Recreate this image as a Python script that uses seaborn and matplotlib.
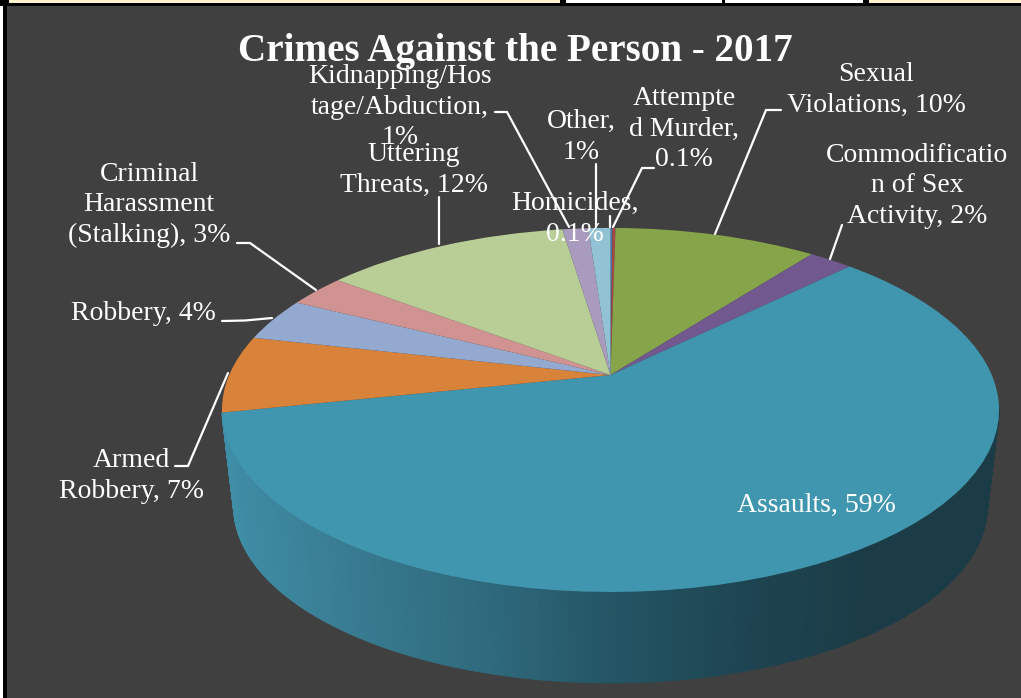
"""
Crimes Against the Person - 2017, 3D looking pie (Excel style) on dark background.
"""
import numpy as np
import matplotlib
matplotlib.use("Agg")
import matplotlib.pyplot as plt
from matplotlib.patches import Rectangle
from matplotlib.transforms import Transform
import seaborn as sns

# ── Data ───────────────────────────────────────────────────────────────────────
categories = ["Homicides", "Attempted Murder", "Sexual Violations", "Commodification of Sex Activity",
              "Assaults", "Armed Robbery", "Robbery", "Criminal Harassment (Stalking)",
              "Uttering Threats", "Kidnapping/Hostage/Abduction", "Other"]
values = [0.1, 0.15, 10.15, 2.2, 59.1, 6.85, 3.85, 2.9, 12.3, 1.3, 1.1]
colors = ["#4572a7", "#aa4643", "#86a44a", "#71588f", "#4096af", "#d98239",
          "#93a9cf", "#d19392", "#b9cd96", "#a99bbd", "#91c3d5"]
wall_colors = ["#3f8ea7", "#387b90", "#2f6a7e", "#245564", "#1e4552", "#1b3c47", "#1b3c47"]

title = "Crimes Against the Person - 2017"
labels = ["Homicides,\n0.1%", "Attempte\nd Murder,\n0.1%", "Sexual\nViolations, 10%",
          "Commodificatio\nn of Sex\nActivity, 2%", "Assaults, 59%", "Armed\nRobbery, 7%",
          "Robbery, 4%", "Criminal\nHarassment\n(Stalking), 3%", "Uttering\nThreats, 12%",
          "Kidnapping/Hos\ntage/Abduction,\n1%", "Other,\n1%"]
label_xy = [(575, 219), (684, 129), (876, 90), (917, 186), (816, 505), (131, 476),
            (143, 314), (149, 205), (414, 170), (400, 107), (581, 137)]
leaders = [[(610, 216), (610, 227)],
           [(654, 168), (642, 168), (613, 227)],
           [(781, 110), (766, 110), (715, 234)],
           [(842, 225), (830, 259)],
           [(175, 466), (188, 466), (228, 373)],
           [(222, 321), (245, 320.5), (272, 318)],
           [(237, 243), (250, 243), (316, 290)],
           [(439, 197), (439, 244)],
           [(495, 112), (507, 112), (569, 227)],
           [(596, 164), (596, 227)]]

# ── Pie geometry in image pixels ───────────────────────────────────────────────
CX, CY = 610.5, 375
R, H, K = 381.3, 175.3, 0.192
WALL_SCALE, WALL_DROP = 0.97, 97.5


class Tilt(Transform):
    """Perspective of the unit circle onto the image plane."""
    input_dims = output_dims = 2
    is_separable = False
    has_inverse = False

    def transform_non_affine(self, xy):
        xy = np.asarray(xy, dtype=float)
        w = 1 + K * xy[:, 1]
        return np.column_stack([CX + R * xy[:, 0] / w, CY - H * xy[:, 1] / w])


sns.set_theme(style="white")
plt.rcParams["font.family"] = ["Liberation Serif", "DejaVu Serif"]
fig = plt.figure(figsize=(10.21, 6.98), dpi=100, facecolor="#404040")
ax = fig.add_axes([0, 0, 1, 1])
wedges, _ = ax.pie(values, colors=colors, startangle=90, counterclock=False, radius=1)
ax.set_aspect("auto")
ax.set_xlim(0, 1021)
ax.set_ylim(698, 0)
ax.set_facecolor("#404040")
ax.axis("on")
sns.despine(ax=ax, left=True, bottom=True)
ax.set_xticks([])
ax.set_yticks([])

tilt = Tilt()
for w in wedges:
    w.set_transform(tilt + ax.transData)
    w.set_linewidth(0)
    w.set_zorder(3)

# ── Side wall (only the Assaults slice shows it) ───────────────────────────────
cum = np.cumsum(values) / np.sum(values) * 360
a = np.radians(np.linspace(100, cum[4], 220))
top = tilt.transform_non_affine(np.column_stack([np.sin(a), np.cos(a)]))
bot = np.column_stack([CX + (top[:, 0] - CX) * WALL_SCALE,
                       CY + (top[:, 1] - CY) * WALL_SCALE + WALL_DROP])
pal = sns.blend_palette(wall_colors, 256)
for i in range(len(a) - 1):
    mid = (top[i, 0] + top[i + 1, 0]) / 2
    c = pal[int(np.clip((mid - 222) / 777, 0, 1) * 255)]
    ax.fill([top[i, 0], top[i + 1, 0], bot[i + 1, 0], bot[i, 0]],
            [top[i, 1], top[i + 1, 1], bot[i + 1, 1], bot[i, 1]],
            color=c, lw=0.6, zorder=2)

# ── Leader lines and labels ────────────────────────────────────────────────────
for pts in leaders:
    ax.plot(*zip(*pts), color="white", lw=1.6, zorder=4, solid_joinstyle="miter")
for text, (x, y) in zip(labels, label_xy):
    ax.text(x, y, text, color="white", fontsize=20, ha="center", va="center",
            linespacing=1.31, zorder=5, multialignment="center")
ax.text(515, 52, title, color="white", fontsize=28.2, fontweight="bold",
        ha="center", va="center", zorder=6)

# ── Cropped worksheet remains along the top and left ───────────────────────────
ax.add_patch(Rectangle((0, 0), 3, 698, color="white", lw=0, zorder=7))
ax.add_patch(Rectangle((3, 0), 4, 698, color="black", lw=0, zorder=7))
ax.add_patch(Rectangle((0, 0), 1021, 5.5, color="black", lw=0, zorder=7))
for x0, x1, c in [(9, 560, "#fff2cc"), (566, 722, "white"), (725, 863, "white"), (869, 1021, "#fff2cc")]:
    ax.add_patch(Rectangle((x0, 0), x1 - x0, 2.7, color=c, lw=0, zorder=8))

fig.savefig("out.png", dpi=100, facecolor=fig.get_facecolor())
